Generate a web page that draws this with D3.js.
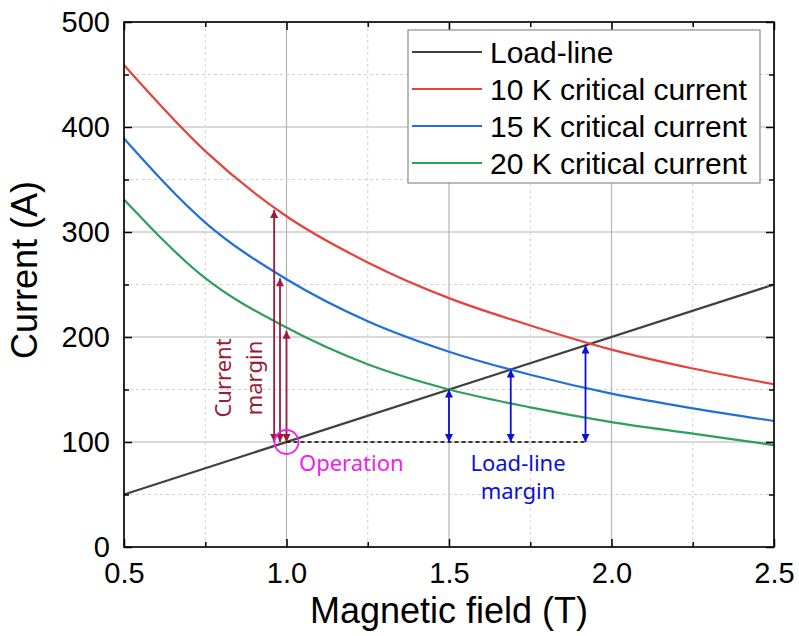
<!DOCTYPE html>
<html><head><meta charset="utf-8">
<script src="https://cdn.jsdelivr.net/npm/d3@7"></script>
<style>body{margin:0;background:#fff}</style></head><body>
<svg id="c" width="799" height="636"></svg>
<script>
// ---- data ----
const fieldT = [0.5, 0.75, 1.0, 1.25, 1.5, 1.75, 2.0, 2.25, 2.5];
const ic10K = [459, 377, 315, 271, 237, 211, 188, 170, 155];
const ic15K = [389, 309, 255, 215, 186, 164, 146, 132, 120];
const ic20K = [331, 256, 209, 174, 150, 133, 119, 108, 97];
const loadField = [0.5, 2.5];
const loadCurrent = [50, 250];
const seriesNames = ["Load-line", "10 K critical current", "15 K critical current", "20 K critical current"];
const xTicks = [0.5, 1.0, 1.5, 2.0, 2.5];
const xMinor = [0.75, 1.25, 1.75, 2.25];
const yTicks = [0, 100, 200, 300, 400, 500];
const yMinor = [50, 150, 250, 350, 450];
const operationPoint = [1.0, 100];
const currentMarginField = [0.962, 0.980, 1.0];
const currentMarginTop = [321, 256, 206];
const loadMarginField = [1.5, 1.69, 1.92];
const loadMarginTop = [150, 169, 192];

// ---- styles ----
const colors = ["#404040", "#e8413a", "#1f6fd8", "#2e9e5b"];
const marginRed = "#9a1b3a";
const marginBlue = "#0a10dc";
const magenta = "#f020f0";
const axisFont = "'Liberation Sans', Arial, sans-serif";
const noteFont = "'Noto Sans', 'Open Sans', sans-serif";

const svg = d3.select("#c");
const x = d3.scaleLinear().domain([0.5, 2.5]).range([124, 774]);
const y = d3.scaleLinear().domain([0, 500]).range([547, 22]);

// defs: arrowheads
const defs = svg.append("defs");
function marker(id, color) {
  defs.append("marker").attr("id", id).attr("viewBox", "0 0 10 10")
    .attr("refX", 10).attr("refY", 5).attr("markerWidth", 10).attr("markerHeight", 8)
    .attr("markerUnits", "userSpaceOnUse").attr("orient", "auto-start-reverse")
    .append("path").attr("d", "M0,0 L10,5 L0,10 Z").attr("fill", color);
}
marker("arrRed", marginRed);
marker("arrBlue", marginBlue);

// grid
const g = svg.append("g");
g.selectAll(".gxm").data(xTicks).join("line")
  .attr("x1", d => x(d)).attr("x2", d => x(d)).attr("y1", y(0)).attr("y2", y(500))
  .attr("stroke", "#b4b4b4").attr("stroke-width", 1.2);
g.selectAll(".gym").data(yTicks).join("line")
  .attr("y1", d => y(d)).attr("y2", d => y(d)).attr("x1", x(0.5)).attr("x2", x(2.5))
  .attr("stroke", "#b4b4b4").attr("stroke-width", 1.2);
g.selectAll(".gxn").data(xMinor).join("line")
  .attr("x1", d => x(d)).attr("x2", d => x(d)).attr("y1", y(0)).attr("y2", y(500))
  .attr("stroke", "#d2d2d2").attr("stroke-width", 1).attr("stroke-dasharray", "3,3");
g.selectAll(".gyn").data(yMinor).join("line")
  .attr("y1", d => y(d)).attr("y2", d => y(d)).attr("x1", x(0.5)).attr("x2", x(2.5))
  .attr("stroke", "#d2d2d2").attr("stroke-width", 1).attr("stroke-dasharray", "3,3");

// curves
const line = d3.line().x(d => x(d[0])).y(d => y(d[1])).curve(d3.curveMonotoneX);
const series = [
  d3.zip(loadField, loadCurrent),
  d3.zip(fieldT, ic10K),
  d3.zip(fieldT, ic15K),
  d3.zip(fieldT, ic20K)
];
series.forEach((s, i) => {
  svg.append("path").datum(s).attr("d", line).attr("fill", "none")
    .attr("stroke", colors[i]).attr("stroke-width", 2.2);
});

// dashed operation line
svg.append("line").attr("x1", x(operationPoint[0])).attr("x2", x(loadMarginField[2]))
  .attr("y1", y(operationPoint[1])).attr("y2", y(operationPoint[1]))
  .attr("stroke", "#000").attr("stroke-width", 1.3).attr("stroke-dasharray", "4,3");

// current margin arrows
currentMarginField.forEach((b, i) => {
  svg.append("line").attr("x1", x(b)).attr("x2", x(b))
    .attr("y1", y(operationPoint[1])).attr("y2", y(currentMarginTop[i]))
    .attr("stroke", marginRed).attr("stroke-width", 1.8)
    .attr("marker-start", "url(#arrRed)").attr("marker-end", "url(#arrRed)");
});
// load-line margin arrows
loadMarginField.forEach((b, i) => {
  svg.append("line").attr("x1", x(b)).attr("x2", x(b))
    .attr("y1", y(operationPoint[1])).attr("y2", y(loadMarginTop[i]))
    .attr("stroke", marginBlue).attr("stroke-width", 1.8)
    .attr("marker-start", "url(#arrBlue)").attr("marker-end", "url(#arrBlue)");
});

// operation circle
svg.append("circle").attr("cx", x(operationPoint[0])).attr("cy", y(operationPoint[1]))
  .attr("r", 12).attr("fill", "none").attr("stroke", magenta).attr("stroke-width", 1.8);

// annotation texts
svg.append("text").attr("x", 299).attr("y", 471).attr("font-family", noteFont)
  .attr("font-size", 22).attr("fill", magenta).text("Operation");
const lm = svg.append("text").attr("font-family", noteFont).attr("font-size", 22)
  .attr("fill", marginBlue).attr("text-anchor", "middle");
lm.append("tspan").attr("x", 518).attr("y", 471).text("Load-line");
lm.append("tspan").attr("x", 518).attr("y", 499).text("margin");
const cm = svg.append("text").attr("font-family", noteFont).attr("font-size", 22)
  .attr("fill", marginRed).attr("text-anchor", "middle")
  .attr("transform", "translate(231,378) rotate(-90)");
cm.append("tspan").attr("x", 0).attr("y", 0).text("Current");
cm.append("tspan").attr("x", 0).attr("y", 31).text("margin");

// axes (inward ticks on all sides)
function styleAxis(sel) {
  sel.select(".domain").remove();
  sel.selectAll("line").attr("stroke", "#000").attr("stroke-width", 1.5);
  sel.selectAll("text").attr("font-family", axisFont).attr("font-size", 29).attr("fill", "#000");
}
svg.append("g").attr("transform", `translate(0,${y(0)})`)
  .call(d3.axisBottom(x).tickValues(xTicks).tickSize(-8).tickPadding(15).tickFormat(d3.format(".1f")))
  .call(styleAxis);
svg.append("g").attr("transform", `translate(0,${y(0)})`)
  .call(d3.axisBottom(x).tickValues(xMinor).tickSize(-5).tickFormat(""))
  .call(styleAxis);
svg.append("g").attr("transform", `translate(0,${y(500)})`)
  .call(d3.axisTop(x).tickValues(xTicks).tickSize(-8).tickFormat(""))
  .call(styleAxis);
svg.append("g").attr("transform", `translate(0,${y(500)})`)
  .call(d3.axisTop(x).tickValues(xMinor).tickSize(-5).tickFormat(""))
  .call(styleAxis);
svg.append("g").attr("transform", `translate(${x(0.5)},0)`)
  .call(d3.axisLeft(y).tickValues(yTicks).tickSize(-8).tickPadding(14))
  .call(styleAxis);
svg.append("g").attr("transform", `translate(${x(0.5)},0)`)
  .call(d3.axisLeft(y).tickValues(yMinor).tickSize(-5).tickFormat(""))
  .call(styleAxis);
svg.append("g").attr("transform", `translate(${x(2.5)},0)`)
  .call(d3.axisRight(y).tickValues(yTicks).tickSize(-8).tickFormat(""))
  .call(styleAxis);
svg.append("g").attr("transform", `translate(${x(2.5)},0)`)
  .call(d3.axisRight(y).tickValues(yMinor).tickSize(-5).tickFormat(""))
  .call(styleAxis);

// frame
svg.append("rect").attr("x", x(0.5)).attr("y", y(500)).attr("width", x(2.5) - x(0.5))
  .attr("height", y(0) - y(500)).attr("fill", "none").attr("stroke", "#000").attr("stroke-width", 1.6);

// axis titles
svg.append("text").attr("x", (x(0.5) + x(2.5)) / 2).attr("y", 623).attr("text-anchor", "middle")
  .attr("font-family", axisFont).attr("font-size", 36).text("Magnetic field (T)");
svg.append("text").attr("transform", "translate(37,270) rotate(-90)").attr("text-anchor", "middle")
  .attr("font-family", axisFont).attr("font-size", 36).text("Current (A)");

// legend
const lg = svg.append("g");
lg.append("rect").attr("x", 408).attr("y", 30).attr("width", 352).attr("height", 153)
  .attr("fill", "#fff").attr("stroke", "#8c8c8c").attr("stroke-width", 1.2);
seriesNames.forEach((n, i) => {
  const cy = 52 + i * 37;
  lg.append("line").attr("x1", 412).attr("x2", 482).attr("y1", cy).attr("y2", cy)
    .attr("stroke", colors[i]).attr("stroke-width", 2.2);
  lg.append("text").attr("x", 490).attr("y", cy).attr("dy", "0.35em")
    .attr("font-family", axisFont).attr("font-size", 30).text(n);
});
</script>
</body></html>
